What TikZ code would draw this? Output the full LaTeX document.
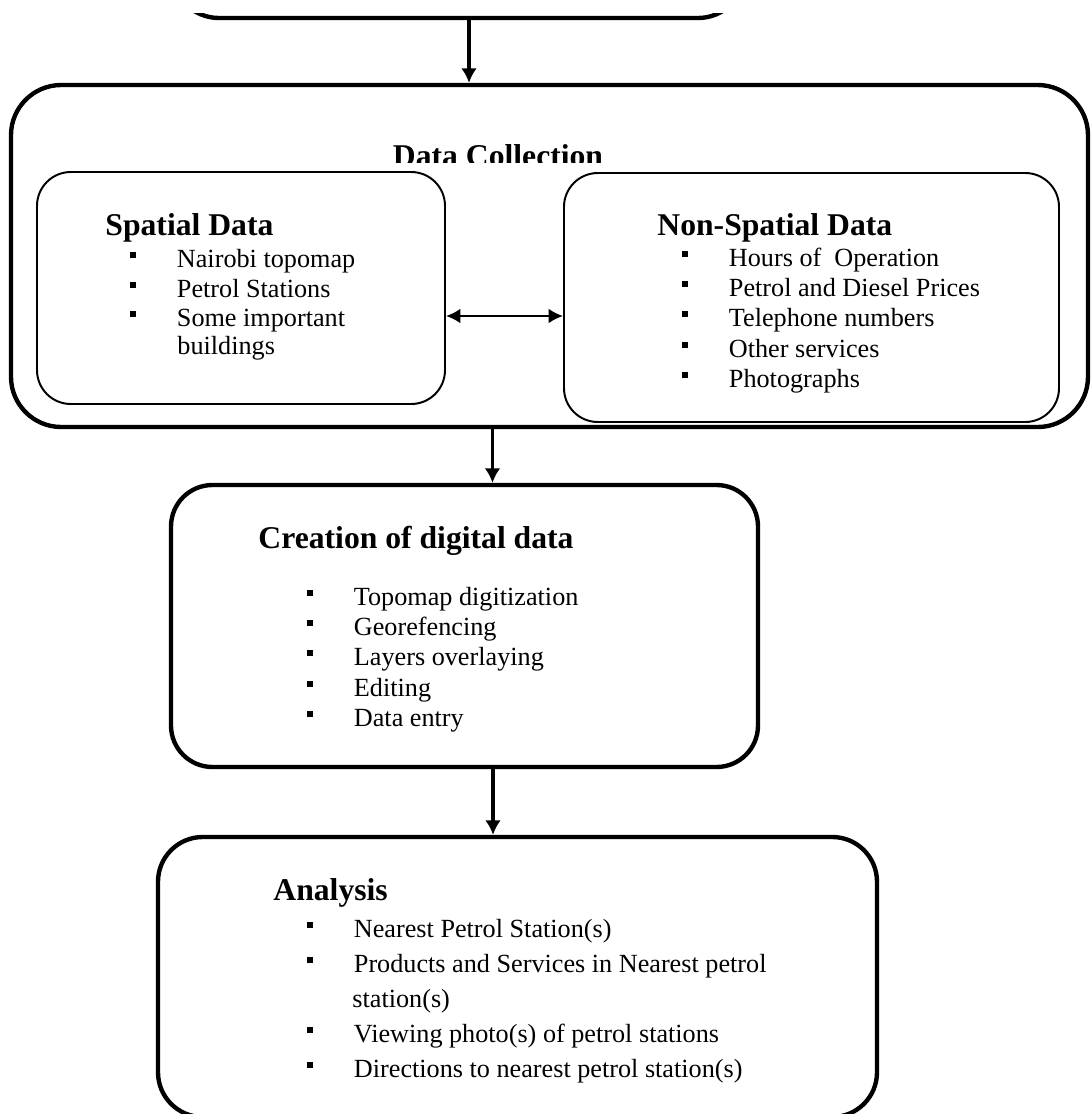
\documentclass[tikz,border=0pt]{standalone}
\usepackage{fontspec}
\setmainfont{Liberation Serif}
\usetikzlibrary{arrows.meta,fit}
\tikzset{
  thickbox/.style={draw, line width=2pt, rounded corners=#1, inner sep=0pt},
  thinbox/.style={draw, line width=0.9pt, rounded corners=15.5pt, inner sep=0pt},
  ttl/.style={anchor=base west, inner sep=0pt, font=\fontsize{14.5}{17}\selectfont\bfseries},
  itm/.style={anchor=base west, inner sep=0pt, font=\fontsize{12}{14}\selectfont},
  arr/.style={-{Latex[length=6.6pt,width=7.2pt]}, line width=1.7pt},
  darr/.style={{Latex[length=6.6pt,width=6.8pt]}-{Latex[length=6.6pt,width=6.8pt]}, line width=1.1pt},
}
\newcommand\bx{\makebox[21.3pt][l]{\rule[4.1pt]{2.75pt}{2.75pt}}}
\begin{document}
\begin{tikzpicture}[x=0.458pt, y=-0.458pt]
\useasboundingbox (0,0) rectangle (1090,1114);
\clip (0,0) rectangle (1090,1114);

% partially visible box at the top (cut off as in the original)
\begin{scope}
  \clip (0,13.5) rectangle (1090,60);
  \node[thickbox=21.5pt, fit={(172,-80) (745,18)}] (top) {};
\end{scope}

% boxes
\node[thickbox=23pt, fit={(11,85) (1088,427)}] (dc) {};
\node[thinbox, fit={(37,172) (445,404)}] (sp) {};
\node[thinbox, fit={(564,173) (1059,422)}] (ns) {};
\node[thickbox=19pt, fit={(171,485) (758,767)}] (cr) {};
\node[thickbox=20.5pt, fit={(158,837) (877,1117)}] (an) {};

% Data Collection title (clipped at bottom as in the original)
\begin{scope}
  \clip (0,0) rectangle (1090,162);
  \node[ttl, anchor=base] (dct) at (498,166) {Data Collection};
\end{scope}

% Spatial data
\node[ttl] (spt) at (105,235) {Spatial Data};
\node[itm] (sp1) at (130,267) {\bx Nairobi topomap};
\node[itm] (sp2) at (130,297) {\bx Petrol Stations};
\node[itm] (sp3) at (130,326) {\bx Some important};
\node[itm] (sp4) at (177,354) {buildings};

% Non-spatial data
\node[ttl] (nst) at (657,235) {Non-Spatial Data};
\node[itm] (ns1) at (682,266) {\bx Hours of~ Operation};
\node[itm] (ns2) at (682,296) {\bx Petrol and Diesel Prices};
\node[itm] (ns3) at (682,326) {\bx Telephone numbers};
\node[itm] (ns4) at (682,357) {\bx Other services};
\node[itm] (ns5) at (682,387) {\bx Photographs};

% Creation of digital data
\node[ttl] (crt) at (258,548) {Creation of digital data};
\node[itm] (cr1) at (307,605) {\bx Topomap digitization};
\node[itm] (cr2) at (307,635) {\bx Georefencing};
\node[itm] (cr3) at (307,665) {\bx Layers overlaying};
\node[itm] (cr4) at (307,696) {\bx Editing};
\node[itm] (cr5) at (307,726) {\bx Data entry};

% Analysis
\node[ttl] (ant) at (273,900) {Analysis};
\node[itm] (an1) at (307,937) {\bx Nearest Petrol Station(s)};
\node[itm] (an2) at (307,972) {\bx Products and Services in Nearest petrol};
\node[itm] (an3) at (352,1007) {station(s)};
\node[itm] (an4) at (307,1042) {\bx Viewing photo(s) of petrol stations};
\node[itm] (an5) at (307,1077) {\bx Directions to nearest petrol station(s)};

% connectors
\coordinate (ax1) at (469,0);
\coordinate (ay1) at (0,316);
\coordinate (ax2) at (492.5,0);
\coordinate (ax3) at (493,0);
\draw[arr] (top.south -| ax1) -- (dc.north -| ax1);
\draw[darr] (sp.east |- ay1) -- (ns.west |- ay1);
\draw[arr] (dc.south -| ax2) -- (cr.north -| ax2);
\draw[arr] (cr.south -| ax3) -- (an.north -| ax3);
\end{tikzpicture}
\end{document}
